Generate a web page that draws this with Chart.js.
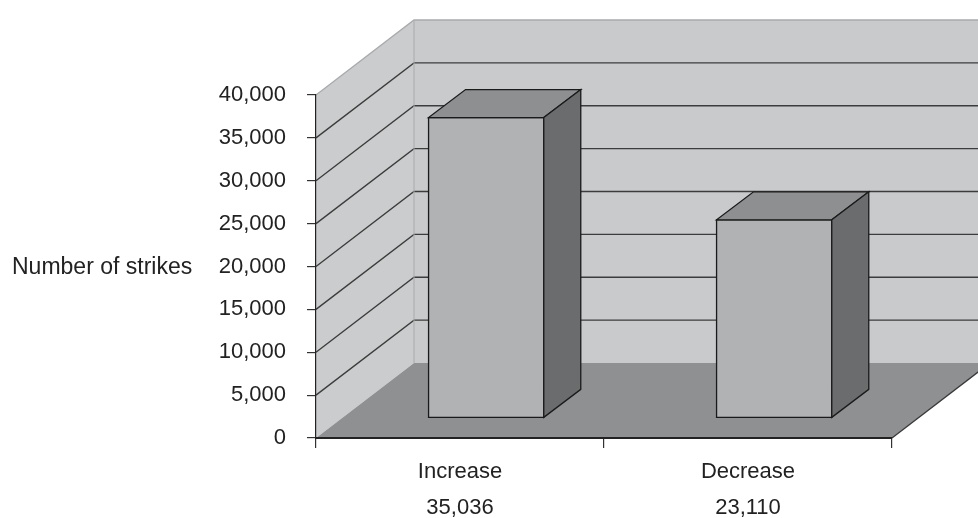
<!DOCTYPE html>
<html>
<head>
<meta charset="utf-8">
<script src="https://cdn.jsdelivr.net/npm/chart.js@4.4.1/dist/chart.umd.min.js"></script>
<style>
  body{margin:0;background:#fff}
  #wrap{width:978px;height:518px}
</style>
</head>
<body>
<div id="wrap"><canvas id="data_chart" width="978" height="518"></canvas></div>
<script>
// data
const categories=['Increase','Decrease']
const strikes=[35036,23110]
const y_ticks=[0,5000,10000,15000,20000,25000,30000,35000,40000]
const y_title='Number of strikes'

const fmt=v=>v.toLocaleString('en-US')

// depth of the 3d box, in pixels
const DX=98, DY=-75
// where the bars sit inside the depth
const BAR_FRONT=0.267, BAR_DEPTH_X=37, BAR_DEPTH_Y=-28

function poly(ctx,pts,fill,stroke,lw){
  ctx.beginPath()
  ctx.moveTo(pts[0][0],pts[0][1])
  for(let i=1;i<pts.length;i++) ctx.lineTo(pts[i][0],pts[i][1])
  ctx.closePath()
  if(fill){ctx.fillStyle=fill;ctx.fill()}
  if(stroke){ctx.strokeStyle=stroke;ctx.lineWidth=lw||1;ctx.stroke()}
}

const box3d={
  id:'box3d',
  beforeDraw(chart){
    const ctx=chart.ctx
    const a=chart.chartArea
    const y=chart.scales.y
    const L=a.left,R=a.right,T=a.top,B=a.bottom
    ctx.save()
    // back wall
    poly(ctx,[[L+DX,T+DY],[R+DX+20,T+DY],[R+DX+20,B+DY],[L+DX,B+DY]],'#c9cacc')
    // side wall
    poly(ctx,[[L,T],[L+DX,T+DY],[L+DX,B+DY],[L,B]],'#cbcccd')
    // floor
    poly(ctx,[[L,B],[R,B],[R+DX,B+DY],[L+DX,B+DY]],'#8f9092')
    // grid lines on the walls
    y_ticks.forEach(v=>{
      if(v===0) return
      const py=y.getPixelForValue(v)
      ctx.beginPath()
      ctx.moveTo(L,py)
      ctx.lineTo(L+DX,py+DY)
      ctx.lineTo(R+DX+20,py+DY)
      ctx.strokeStyle=v===y_ticks[y_ticks.length-1]?'#a9aaac':'#3c3c3c'
      ctx.lineWidth=1.3
      ctx.stroke()
    })
    // corner edge of the walls
    ctx.beginPath()
    ctx.moveTo(L+DX,T+DY)
    ctx.lineTo(L+DX,B+DY)
    ctx.strokeStyle='#a9aaac'
    ctx.lineWidth=1
    ctx.stroke()
    // right edge of the floor
    ctx.beginPath()
    ctx.moveTo(R,B)
    ctx.lineTo(R+DX,B+DY)
    ctx.strokeStyle='#3a3a3a'
    ctx.lineWidth=1.3
    ctx.stroke()
    // axis title, written flat
    ctx.fillStyle='#222'
    ctx.font='23px "Liberation Sans", Arial, sans-serif'
    ctx.textAlign='left'
    ctx.textBaseline='middle'
    ctx.fillText(y_title,12,y.getPixelForValue(20000)+1)
    ctx.restore()
  },
  afterDatasetsDraw(chart){
    const ctx=chart.ctx
    const meta=chart.getDatasetMeta(0)
    const ox=DX*BAR_FRONT, oy=DY*BAR_FRONT
    ctx.save()
    meta.data.forEach(bar=>{
      const p=bar.getProps(['x','y','base','width'],true)
      const l=p.x-p.width/2+ox, r=p.x+p.width/2+ox
      const t=p.y+oy, b=p.base+oy
      const st='#1a1a1a'
      poly(ctx,[[l,t],[r,t],[r,b],[l,b]],'#b1b2b4',st,1.3)
      poly(ctx,[[l,t],[r,t],[r+BAR_DEPTH_X,t+BAR_DEPTH_Y],[l+BAR_DEPTH_X,t+BAR_DEPTH_Y]],'#8e8f91',st,1.3)
      poly(ctx,[[r,t],[r+BAR_DEPTH_X,t+BAR_DEPTH_Y],[r+BAR_DEPTH_X,b+BAR_DEPTH_Y],[r,b]],'#6b6c6e',st,1.3)
    })
    ctx.restore()
  }
}

new Chart('data_chart',{
  type:'bar',
  data:{
    labels:categories,
    datasets:[{
      data:strikes,
      backgroundColor:'rgba(0,0,0,0)',
      borderWidth:0,
      barPercentage:0.4,
      categoryPercentage:1
    }]
  },
  options:{
    responsive:false,
    animation:false,
    layout:{padding:{top:95,right:86,left:0,bottom:0}},
    plugins:{legend:{display:false},tooltip:{enabled:false}},
    scales:{
      x:{
        afterFit(s){s.height=80},
        grid:{offset:true,drawOnChartArea:false,tickLength:10,color:'#333',lineWidth:1.2},
        border:{display:true,color:'#222',width:2},
        ticks:{
          padding:6,
          color:'#222',
          font:{family:'"Liberation Sans", Arial, sans-serif',size:22,lineHeight:1.636},
          callback:(v,i)=>[categories[i],fmt(strikes[i])]
        }
      },
      y:{
        min:0,max:40000,
        afterFit(s){s.width=316},
        afterBuildTicks(s){s.ticks=y_ticks.map(v=>({value:v}))},
        grid:{drawOnChartArea:false,tickLength:9,color:'#333',lineWidth:1.2},
        border:{display:true,color:'#222',width:1.2},
        ticks:{
          padding:21,
          color:'#222',
          font:{family:'"Liberation Sans", Arial, sans-serif',size:22},
          callback:v=>fmt(v)
        }
      }
    }
  },
  plugins:[box3d]
})
</script>
</body>
</html>
